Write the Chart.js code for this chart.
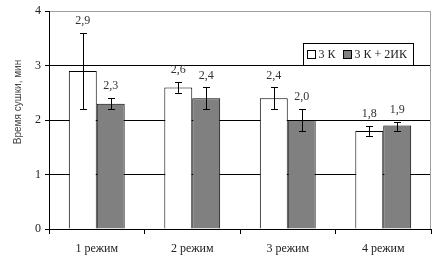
<!DOCTYPE html>
<html>
<head>
<meta charset="utf-8">
<script src="https://cdn.jsdelivr.net/npm/chart.js@4"></script>
<style>
  html, body { margin: 0; padding: 0; background: #fff; }
  #wrap { width: 437px; height: 259px; }
</style>
</head>
<body>
<div id="wrap"><canvas id="chart" width="437" height="259"></canvas></div>
<script>
// data
const categories = ['1 режим', '2 режим', '3 режим', '4 режим'];
const seriesNames = ['3 К', '3 К + 2ИК'];
const valuesK = [2.9, 2.6, 2.4, 1.8];
const valuesKIK = [2.3, 2.4, 2.0, 1.9];
// error bar ends (low / high)
const errLowK = [2.2, 2.5, 2.2, 1.71];
const errHighK = [3.6, 2.7, 2.6, 1.89];
const errLowKIK = [2.2, 2.2, 1.8, 1.8];
const errHighKIK = [2.4, 2.6, 2.2, 1.96];
const yTicks = [0, 1, 2, 3, 4];

const serif = '"Liberation Serif", "DejaVu Serif", serif';
const sans = '"Liberation Sans", Arial, sans-serif';

// error bars + value labels
const errorBars = {
    id: 'errorBars',
    afterDatasetsDraw(chart) {
        const ctx = chart.ctx;
        const y = chart.scales.y;
        const lows = [errLowK, errLowKIK];
        const highs = [errHighK, errHighKIK];
        const vals = [valuesK, valuesKIK];
        ctx.save();
        chart.data.datasets.forEach((ds, di) => {
            const meta = chart.getDatasetMeta(di);
            meta.data.forEach((bar, i) => {
                const x = Math.round(bar.x) + 0.5;
                const yl = y.getPixelForValue(lows[di][i]);
                const yh = y.getPixelForValue(highs[di][i]);
                ctx.strokeStyle = '#000';
                ctx.lineWidth = 1;
                ctx.beginPath();
                ctx.moveTo(x, yl); ctx.lineTo(x, yh);
                ctx.moveTo(x - 3.5, Math.round(yl) + 0.5); ctx.lineTo(x + 3.5, Math.round(yl) + 0.5);
                ctx.moveTo(x - 3.5, Math.round(yh) + 0.5); ctx.lineTo(x + 3.5, Math.round(yh) + 0.5);
                ctx.stroke();

                ctx.fillStyle = '#333';
                ctx.font = '12px ' + serif;
                ctx.textAlign = 'center';
                ctx.textBaseline = 'middle';
                ctx.fillText(vals[di][i].toFixed(1).replace('.', ','), bar.x, yh - 12);
            });
        });
        ctx.restore();
    }
};

// frame lines, legend box and axis title
const decorations = {
    id: 'decorations',
    afterDraw(chart) {
        const ctx = chart.ctx;
        const a = chart.chartArea;
        ctx.save();
        // right border of plot area
        ctx.strokeStyle = '#a0a0a0';
        ctx.lineWidth = 1;
        ctx.beginPath();
        ctx.moveTo(Math.round(a.right) - 0.5, a.top);
        ctx.lineTo(Math.round(a.right) - 0.5, a.bottom);
        ctx.stroke();

        // legend
        const lx = 303.5, ly = 43.5, lw = 110, lh = 22;
        ctx.fillStyle = '#fff';
        ctx.fillRect(lx, ly, lw, lh);
        ctx.strokeStyle = '#000';
        ctx.strokeRect(lx, ly, lw, lh);
        ctx.font = '12px ' + serif;
        ctx.textBaseline = 'middle';
        ctx.textAlign = 'left';
        const fills = ['#ffffff', '#808080'];
        const xs = [307.5, 343.5];
        seriesNames.forEach((name, i) => {
            ctx.fillStyle = fills[i];
            ctx.fillRect(xs[i], 50.5, 8, 8);
            ctx.strokeStyle = '#000';
            ctx.strokeRect(xs[i], 50.5, 8, 8);
            ctx.fillStyle = '#222';
            ctx.fillText(name, xs[i] + 11, 55);
        });

        // y axis title
        ctx.translate(18, 102);
        ctx.rotate(-Math.PI / 2);
        ctx.textAlign = 'center';
        ctx.fillStyle = '#444';
        ctx.font = '10px ' + sans;
        ctx.fillText('Время сушки, мин', 0, 0);
        ctx.restore();
    }
};

new Chart(document.getElementById('chart'), {
    type: 'bar',
    data: {
        labels: categories,
        datasets: [{
            label: seriesNames[0],
            data: valuesK,
            backgroundColor: '#ffffff',
            borderColor: '#000',
            borderWidth: 1
        }, {
            label: seriesNames[1],
            data: valuesKIK,
            backgroundColor: '#808080',
            borderColor: '#000',
            borderWidth: 1
        }]
    },
    options: {
        responsive: false,
        animation: false,
        layout: { padding: { top: 11, right: 6, left: 0, bottom: 0 } },
        datasets: { bar: { categoryPercentage: 0.585, barPercentage: 1 } },
        plugins: {
            legend: { display: false },
            tooltip: { enabled: false }
        },
        scales: {
            x: {
                afterFit: (s) => { s.height = 30; },
                grid: { offset: true, drawOnChartArea: false, drawTicks: true, tickLength: 5, color: '#000' },
                border: { color: '#000' },
                ticks: { color: '#222', font: { family: serif, size: 12 }, padding: 8 }
            },
            y: {
                min: 0,
                max: 4,
                afterFit: (s) => { s.width = 49; },
                afterBuildTicks: (s) => { s.ticks = yTicks.map(v => ({ value: v })); },
                grid: {
                    color: (c) => c.tick && c.tick.value === 4 ? '#a0a0a0' : '#000',
                    tickColor: '#000',
                    tickLength: 4
                },
                border: { color: '#000' },
                ticks: { color: '#222', font: { family: serif, size: 12 }, padding: 4 }
            }
        }
    },
    plugins: [errorBars, decorations]
});
</script>
</body>
</html>
